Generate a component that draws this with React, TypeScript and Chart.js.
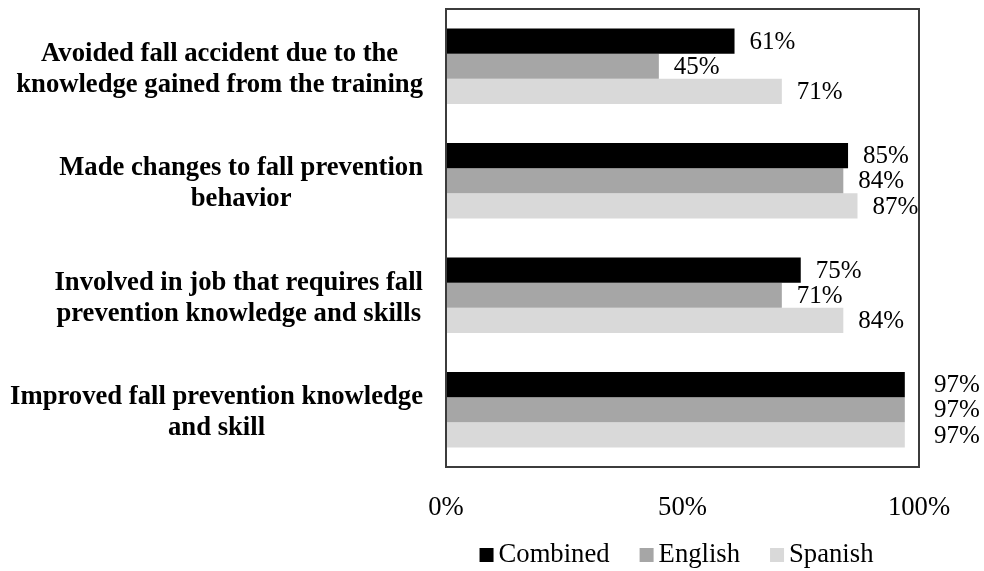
import React, { useEffect, useRef } from "react";
import { Chart, registerables } from "chart.js";

Chart.register(...registerables);

const categories: string[][] = [
  ["Avoided fall accident due to the", "knowledge gained from the training"],
  ["Made changes to fall prevention", "behavior"],
  ["Involved in job that requires fall", "prevention knowledge and skills"],
  ["Improved fall prevention knowledge", "and skill"],
];
const seriesNames = ["Combined", "English", "Spanish"];
const combined = [61, 85, 75, 97];
const english = [45, 84, 71, 97];
const spanish = [71, 87, 84, 97];
const xMin = 0;
const xMax = 100;
const xStep = 50;
const colors = ["#000000", "#a6a6a6", "#d9d9d9"];

const FONT = "'Times New Roman', 'Liberation Serif', serif";

const overlay = {
  id: "overlay",
  afterDatasetsDraw(chart: any) {
    const ctx = chart.ctx as CanvasRenderingContext2D;
    const area = chart.chartArea;
    ctx.save();
    // value labels
    ctx.font = `25px ${FONT}`;
    ctx.fillStyle = "#000";
    ctx.textBaseline = "middle";
    ctx.textAlign = "left";
    chart.data.datasets.forEach((ds: any, di: number) => {
      const meta = chart.getDatasetMeta(di);
      meta.data.forEach((bar: any, i: number) => {
        const text = ds.data[i] + "%";
        const w = ctx.measureText(text).width;
        let x = bar.x + 15;
        if (x < area.right + 2 && x + w > area.right + 4) x = area.right + 15;
        ctx.fillText(text, x, bar.y + 1);
      });
    });
    // frame
    ctx.strokeStyle = "#3c3c3c";
    ctx.lineWidth = 2;
    ctx.strokeRect(area.left, area.top, area.right - area.left, area.bottom - area.top);
    // category labels
    ctx.font = `bold 26.67px ${FONT}`;
    ctx.textAlign = "center";
    const yScale = chart.scales.y;
    categories.forEach((lines, i) => {
      const yc = yScale.getPixelForValue(i) + 3;
      const maxW = Math.max(...lines.map((l) => ctx.measureText(l).width));
      const cx = area.left - 23 - maxW / 2;
      const lh = 31;
      lines.forEach((l, k) => ctx.fillText(l, cx, yc + (k - (lines.length - 1) / 2) * lh));
    });
    // legend
    ctx.font = `26.67px ${FONT}`;
    ctx.textAlign = "left";
    const box = 14;
    const gap = 5;
    const itemGap = 30;
    const widths = seriesNames.map((n) => ctx.measureText(n).width);
    const total = widths.reduce((a, b) => a + b + box + gap, 0) + itemGap * (seriesNames.length - 1);
    let x = (area.left + area.right) / 2 - 6 - total / 2;
    const ly = 555;
    seriesNames.forEach((n, i) => {
      ctx.fillStyle = colors[i];
      ctx.fillRect(x, ly - box / 2, box, box);
      ctx.fillStyle = "#000";
      ctx.fillText(n, x + box + gap, ly);
      x += box + gap + widths[i] + itemGap;
    });
    ctx.restore();
  },
};

export default function App() {
  const ref = useRef<HTMLCanvasElement>(null);
  useEffect(() => {
    if (!ref.current) return;
    const chart = new Chart(ref.current, {
      type: "bar",
      data: {
        labels: categories.map((c) => c.join(" ")),
        datasets: [
          { label: seriesNames[0], data: combined, backgroundColor: colors[0] },
          { label: seriesNames[1], data: english, backgroundColor: colors[1] },
          { label: seriesNames[2], data: spanish, backgroundColor: colors[2] },
        ],
      },
      options: {
        indexAxis: "y",
        responsive: false,
        maintainAspectRatio: false,
        devicePixelRatio: 1,
        animation: false,
        datasets: { bar: { categoryPercentage: 0.66, barPercentage: 1 } },
        layout: { padding: { left: 446, right: 65, top: 9, bottom: 0 } },
        plugins: { legend: { display: false }, tooltip: { enabled: false } },
        scales: {
          y: { type: "category", display: false },
          x: {
            min: xMin,
            max: xMax,
            grid: { display: false, drawTicks: false },
            border: { display: false },
            ticks: {
              stepSize: xStep,
              padding: 25,
              color: "#000",
              font: { family: FONT, size: 26.67 },
              callback: (v: any) => v + "%",
            },
            afterFit: (s: any) => {
              s.height = 104;
            },
          },
        },
      },
      plugins: [overlay],
    });
    return () => chart.destroy();
  }, []);
  return (
    <div style={{ position: "absolute", left: 0, top: 0, width: 984, height: 571, background: "#fff" }}>
      <canvas ref={ref} width={984} height={571} />
    </div>
  );
}
